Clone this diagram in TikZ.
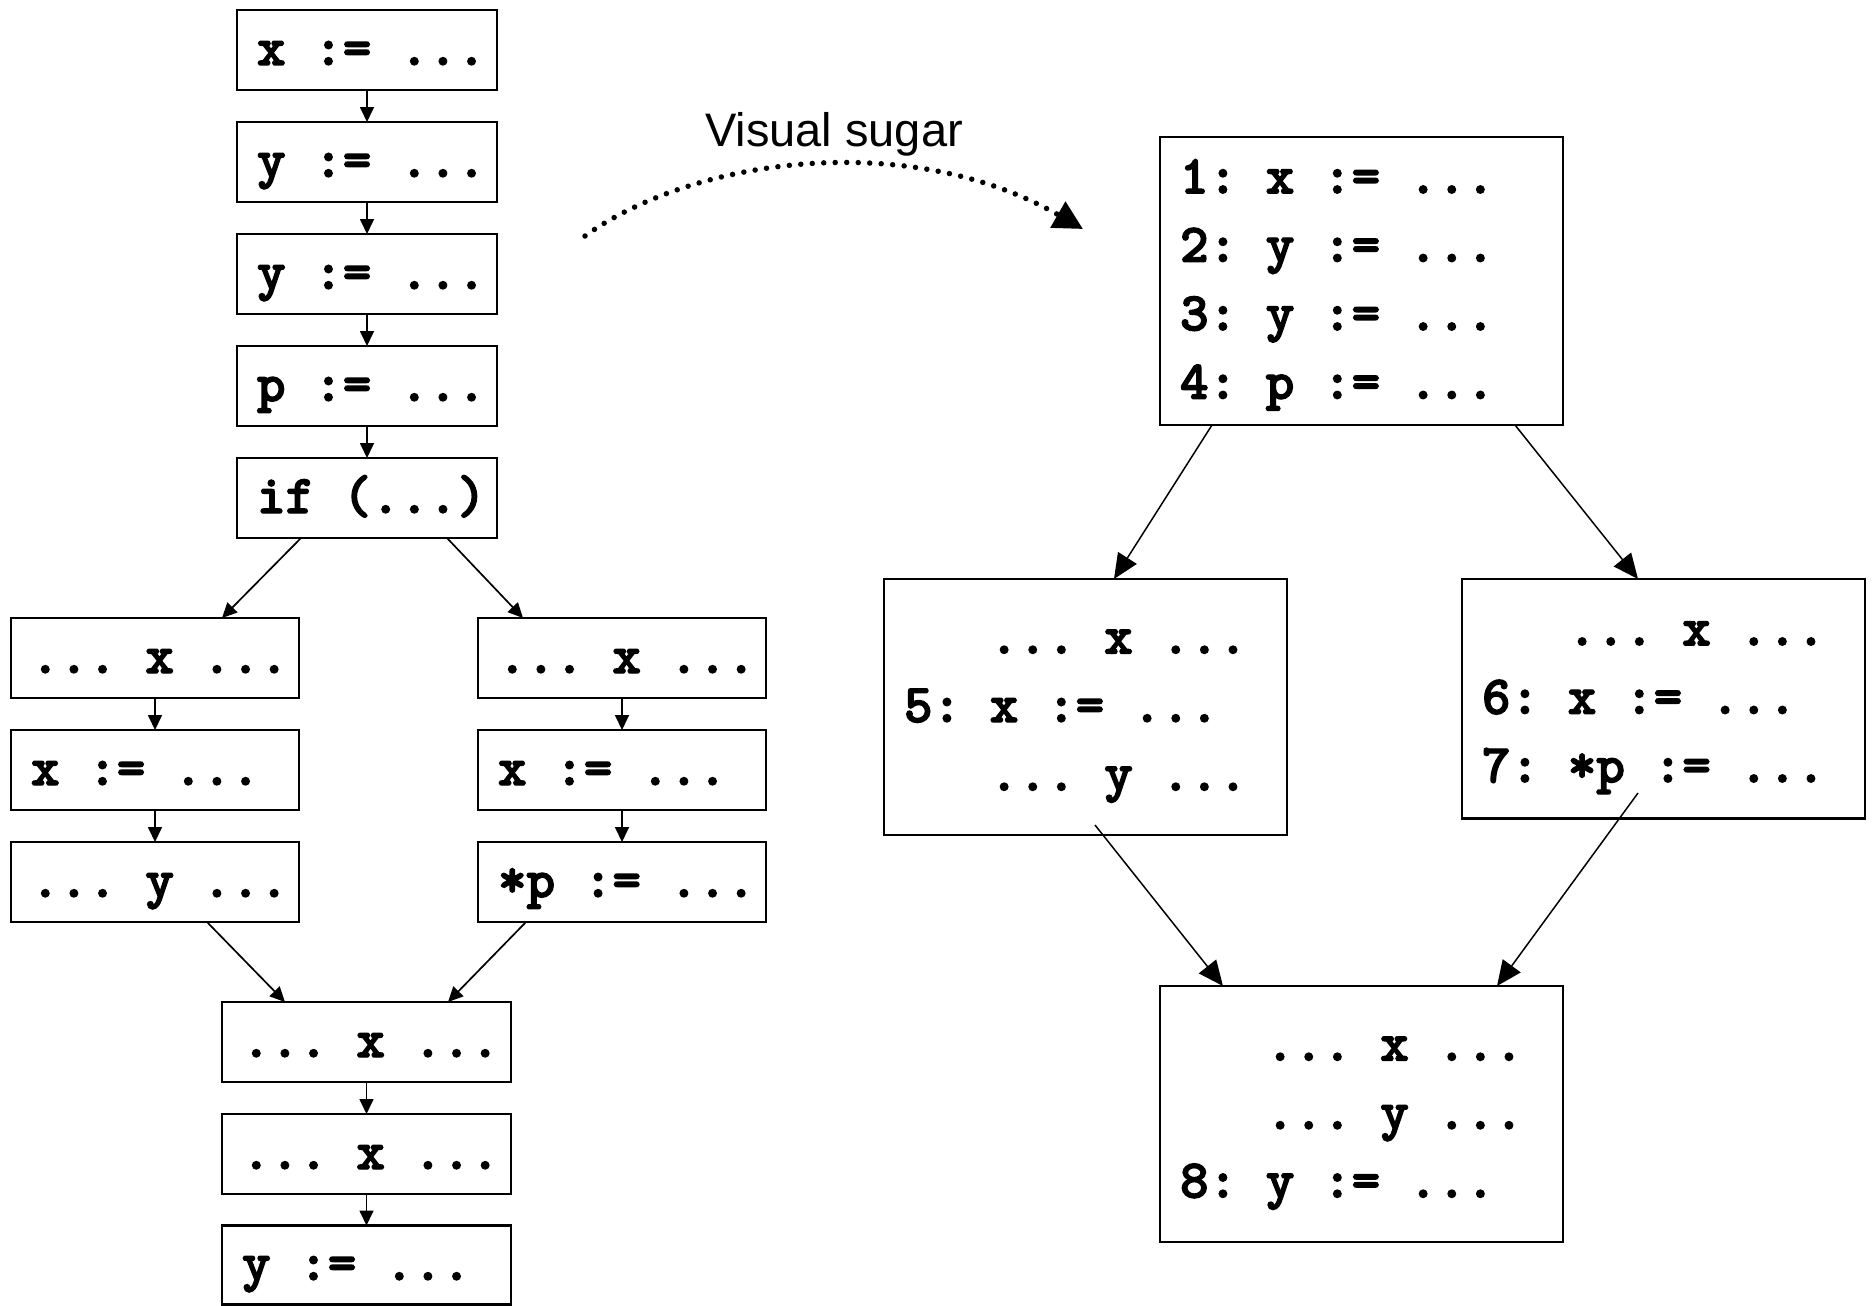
\documentclass[tikz,border=0pt]{standalone}
\usepackage{fontspec}
\usetikzlibrary{arrows.meta}
\newfontfamily\labelfamily{Liberation Sans}
\newfontfamily\codefamily{lmmonolt10-bold.otf}[FakeBold=2.5]
% heavy typewriter face, one character = 28.6pt
\newcommand\codefont{\codefamily\fontsize{54.5pt}{68.5pt}\selectfont}
\newcommand\pad{\hspace*{1.575em}}

\begin{document}
\begin{tikzpicture}[x=1pt,y=-1pt,
  codebox/.style={draw, line width=2.5pt, rectangle, inner sep=0pt, outer sep=0pt,
    font=\codefont, align=left, text height=30pt, text depth=0pt,
    execute at begin node={\leftskip=20pt\relax
      \spaceskip=0.525em plus 0pt minus 0pt\relax
      \xspaceskip=0.525em plus 0pt minus 0pt\relax}},
  threelines/.style={text depth=137pt},
  fourlines/.style={text depth=205.5pt},
  smallbox/.style={codebox, minimum height=80pt},
  tinyarrow/.style={line width=1.7pt, -{Triangle[length=15pt,width=14pt]}},
  bigarrow/.style={line width=1.5pt, -{Triangle[length=25pt,width=22pt]}},
  sugarline/.style={line width=5.5pt, line cap=round, dash pattern=on 0pt off 11.5pt,
    -{Triangle[length=29pt,width=29pt]}}
]
\useasboundingbox (0,0) rectangle (1875,1306);

% straight-line code, one statement per block
\node[smallbox, text width=260pt] (a1) at (367,50)  {x := ...};
\node[smallbox, text width=260pt] (a2) at (367,162) {y := ...};
\node[smallbox, text width=260pt] (a3) at (367,274) {y := ...};
\node[smallbox, text width=260pt] (a4) at (367,386) {p := ...};
\node[smallbox, text width=260pt] (a5) at (367,498) {if (...)};

% the two branches
\node[smallbox, text width=288pt] (l1) at (155,658) {... x ...};
\node[smallbox, text width=288pt] (l2) at (155,770) {x := ...};
\node[smallbox, text width=288pt] (l3) at (155,882) {... y ...};
\node[smallbox, text width=288pt] (r1) at (622,658) {... x ...};
\node[smallbox, text width=288pt] (r2) at (622,770) {x := ...};
\node[smallbox, text width=288pt] (r3) at (622,882) {*p := ...};

% join
\node[smallbox, text width=289pt] (m1) at (366.5,1042) {... x ...};
\node[smallbox, text width=289pt] (m2) at (366.5,1154) {... x ...};
\node[codebox, text width=289pt, minimum height=79pt] (m3) at (366.5,1265) {y := ...};

\draw[tinyarrow] (a1.south) -- (a2.north);
\draw[tinyarrow] (a2.south) -- (a3.north);
\draw[tinyarrow] (a3.south) -- (a4.north);
\draw[tinyarrow] (a4.south) -- (a5.north);
\draw[tinyarrow] ([xshift=64pt]a5.south west) -- ([xshift=211pt]l1.north west);
\draw[tinyarrow] ([xshift=210pt]a5.south west) -- ([xshift=45pt]r1.north west);
\draw[tinyarrow] (l1.south) -- (l2.north);
\draw[tinyarrow] (l2.south) -- (l3.north);
\draw[tinyarrow] (r1.south) -- (r2.north);
\draw[tinyarrow] (r2.south) -- (r3.north);
\draw[tinyarrow] ([xshift=196pt]l3.south west) -- ([xshift=63pt]m1.north west);
\draw[tinyarrow] ([xshift=48pt]r3.south west) -- ([xshift=226pt]m1.north west);
\draw[tinyarrow] (m1.south) -- (m2.north);
\draw[tinyarrow] (m2.south) -- (m3.north);

% the same program as basic blocks
\node[codebox, fourlines, text width=403pt, minimum height=288pt] (b1) at (1361.5,281)
  {1: x := ...\\2: y := ...\\3: y := ...\\4: p := ...};
\node[codebox, threelines, text width=403pt, minimum height=256pt] (b5) at (1085.5,707)
  {\pad... x ...\\5: x := ...\\\pad... y ...};
\node[codebox, threelines, text width=403pt, minimum height=239.5pt] (b6) at (1663.5,698.75)
  {\pad... x ...\\6: x := ...\\7: *p := ...};
\node[codebox, threelines, text width=403pt, minimum height=256pt] (b8) at (1361.5,1114)
  {\pad... x ...\\\pad... y ...\\8: y := ...};

\draw[bigarrow] ([xshift=52pt]b1.south west) -- ([xshift=230pt]b5.north west);
\draw[bigarrow] ([xshift=355pt]b1.south west) -- ([xshift=176pt]b6.north west);
\draw[bigarrow] ([xshift=211pt,yshift=10pt]b5.south west) -- ([xshift=63pt]b8.north west);
\draw[bigarrow] ([xshift=176pt,yshift=25.5pt]b6.south west) -- ([xshift=337pt]b8.north west);

% the transformation arrow
\node[font=\labelfamily\fontsize{47pt}{56pt}\selectfont, anchor=base, inner sep=0pt]
  (sugarlabel) at (834,146) {Visual sugar};
\coordinate (sugarstart) at (585,236);
\coordinate (sugarend) at (1083,229);
\draw[sugarline] (sugarstart) .. controls (690,160) and (905,127) .. (sugarend);
\end{tikzpicture}
\end{document}
